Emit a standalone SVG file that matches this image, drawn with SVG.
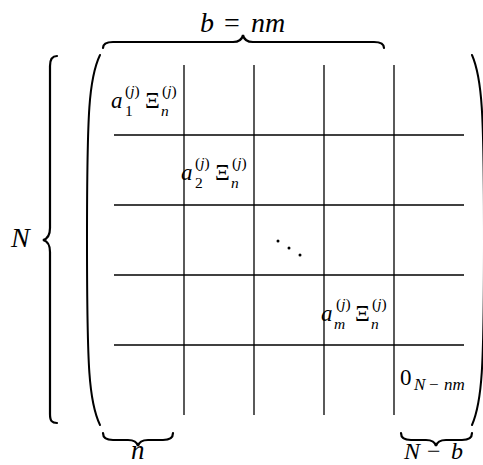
<svg xmlns="http://www.w3.org/2000/svg" width="483" height="465" viewBox="0 0 483 465">
<style>
.ln{stroke:#000;stroke-width:1.3;fill:none}
.br{stroke:#000;stroke-width:2.2;fill:none;stroke-linecap:round}
.pr{stroke:#000;stroke-width:2;fill:none;stroke-linecap:round}
text{font-family:"Liberation Serif","Times New Roman",serif;fill:#000}
.it{font-style:italic}
.big{font-size:28px}
.mn{font-size:23px}
.sc{font-size:15.5px}
</style>
<rect width="483" height="465" fill="#fff"/>
<g id="grid">
<line class="ln" x1="184" y1="65" x2="184" y2="415"/>
<line class="ln" x1="254" y1="65" x2="254" y2="415"/>
<line class="ln" x1="324" y1="65" x2="324" y2="415"/>
<line class="ln" x1="394" y1="65" x2="394" y2="415"/>
<line class="ln" x1="114" y1="135" x2="464" y2="135"/>
<line class="ln" x1="114" y1="205" x2="464" y2="205"/>
<line class="ln" x1="114" y1="275" x2="464" y2="275"/>
<line class="ln" x1="114" y1="345" x2="464" y2="345"/>
</g>
<g id="parens">
<path class="pr" d="M100,55 C89,78 87,110 87,240 C87,370 89,402 100,425"/>
<path class="pr" d="M472,55 C482,78 484,110 484,240 C484,370 482,402 472,425"/>
</g>
<g id="brace-top">
<path class="br" d="M103,48 C103,44 106,42 113,42 L233,42 C239,42 242,40 243,35 C244,40 247,42 253,42 L374,42 C381,42 384,44 384,48"/>
<text class="big" y="32"><tspan class="it" x="200">b</tspan><tspan x="224">=</tspan><tspan class="it" x="251">nm</tspan></text>
</g>
<g id="brace-left">
<path class="br" d="M57,56 C52,56 50,59 50,66 L50,228 C50,236 47,239 43,240 C47,241 50,244 50,252 L50,414 C50,421 52,423 57,423"/>
<text class="big it" x="11" y="247">N</text>
</g>
<g id="brace-n">
<path class="br" d="M103,433 C103,437 106,440 113,440 L128,440 C134,440 137,442 138,446 C139,442 142,440 148,440 L163,440 C170,440 173,437 173,433"/>
<text class="it" font-size="27" x="131" y="459">n</text>
</g>
<g id="brace-nb">
<path class="br" d="M401,433 C401,437 404,440 411,440 L426,440 C432,440 435,442 436,446 C437,442 440,440 446,440 L462,440 C469,440 472,437 472,433"/>
<text font-size="24" y="459"><tspan class="it" x="404">N</tspan><tspan x="427">−</tspan><tspan class="it" x="451">b</tspan></text>
</g>
<g id="cell1">
<text class="mn it" x="111" y="108">a</text>
<text class="sc" x="125" y="116">1</text>
<text class="sc" x="125" y="96">(<tspan class="it">j</tspan>)</text>
<text class="mn" x="145" y="108">Ξ</text>
<text class="sc it" x="161" y="116">n</text>
<text class="sc" x="162" y="96">(<tspan class="it">j</tspan>)</text>
</g>
<g id="cell2">
<text class="mn it" x="181" y="180">a</text>
<text class="sc" x="195" y="188">2</text>
<text class="sc" x="195" y="168">(<tspan class="it">j</tspan>)</text>
<text class="mn" x="215" y="180">Ξ</text>
<text class="sc it" x="231" y="188">n</text>
<text class="sc" x="232" y="168">(<tspan class="it">j</tspan>)</text>
</g>
<g id="dots">
<circle cx="278" cy="241" r="1.5"/>
<circle cx="289" cy="248" r="1.5"/>
<circle cx="300" cy="255" r="1.5"/>
</g>
<g id="cellm">
<text class="mn it" x="321" y="321">a</text>
<text class="sc it" x="334" y="329">m</text>
<text class="sc" x="336" y="309">(<tspan class="it">j</tspan>)</text>
<text class="mn" x="355" y="321">Ξ</text>
<text class="sc it" x="371" y="329">n</text>
<text class="sc" x="372" y="309">(<tspan class="it">j</tspan>)</text>
</g>
<g id="zero">
<text class="mn" x="400" y="385">0</text>
<text font-size="17" y="390"><tspan class="it" x="414">N</tspan><tspan x="429">−</tspan><tspan class="it" x="444">nm</tspan></text>
</g>
</svg>
